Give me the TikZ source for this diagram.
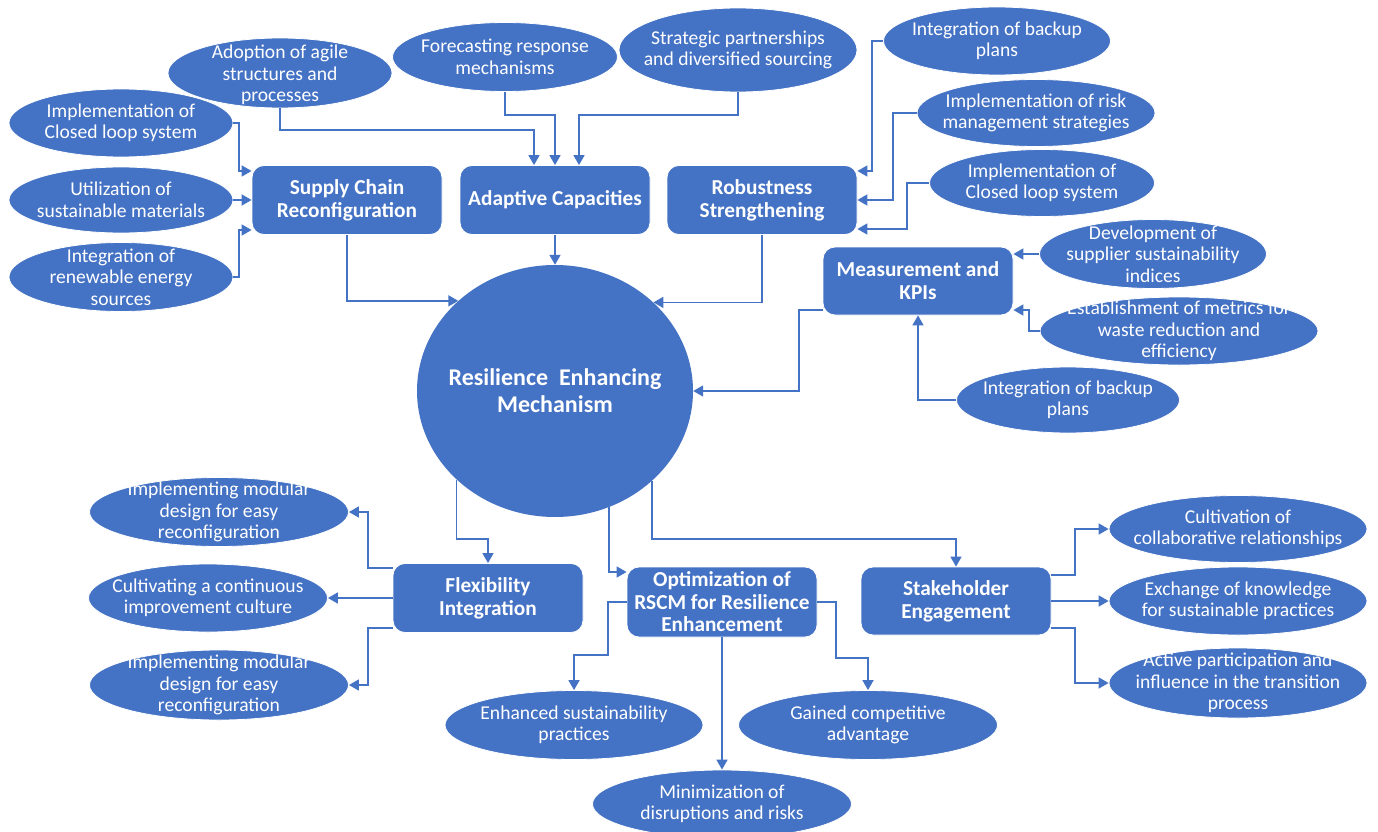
\documentclass[tikz,border=0pt]{standalone}
\usepackage{fontspec}
\setmainfont{Carlito}
\usetikzlibrary{shapes.geometric,arrows.meta}
\definecolor{ob}{HTML}{4472C4}
\begin{document}
\begin{tikzpicture}[x=1pt,y=-1pt,
  ell/.style={ellipse,fill=ob,draw=white,line width=0.8pt,inner sep=0pt},
  lbl/.style={text=white,inner sep=0pt,align=center,font=\fontsize{19.6}{21.5}\selectfont},
  bx/.style={rectangle,rounded corners=12pt,fill=ob,draw=white,line width=0.8pt,text=white,inner sep=0pt,
    align=center,minimum width=190pt,minimum height=69pt,font=\bfseries\fontsize{21.3}{23}\selectfont},
  hub/.style={ellipse,fill=ob,inner sep=0pt},
  hublbl/.style={text=white,inner sep=0pt,align=center,font=\bfseries\fontsize{24}{27}\selectfont},
  arr/.style={draw=ob,line width=1.6pt,-{Triangle[length=10pt,width=11pt]}}]
\useasboundingbox (0,0) rectangle (1378,832);
\fill[white] (0,0) rectangle (1378,832);

% central hub
\node[hub,minimum width=276pt,minimum height=252pt,
  label={[hublbl]center:{Resilience\ \ Enhancing\\Mechanism}}] (circ) at (555,391) {};

% boxes
\node[bx] (scr) at (347,200) {Supply Chain\\Reconfiguration};
\node[bx] (ac) at (555,200) {Adaptive Capacities};
\node[bx] (rs) at (762,200) {Robustness\\Strengthening};
\node[bx,minimum height=68pt] (mk) at (918,281) {Measurement and\\KPIs};
\node[bx] (flex) at (488,598) {Flexibility\\Integration};
\node[bx,minimum height=70pt,font=\bfseries\fontsize{21.3}{22.5}\selectfont] (opt) at (722,602) {Optimization of\\RSCM for Resilience\\Enhancement};
\node[bx,minimum height=68pt] (stake) at (956,601) {Stakeholder\\Engagement};

% ellipses top
\node[ell,minimum width=224pt,minimum height=70pt,label={[lbl,yshift=-2pt]center:{Adoption of agile\\structures and\\processes}}] (e1) at (280,73) {};
\node[ell,minimum width=225pt,minimum height=69pt,label={[lbl]center:{Forecasting response\\mechanisms}}] (e2) at (505,57) {};
\node[ell,minimum width=238pt,minimum height=84pt,label={[lbl]center:{Strategic partnerships\\and diversified sourcing}}] (e3) at (738,50) {};
% left
\node[ell,minimum width=224pt,minimum height=68pt,label={[lbl]center:{Implementation of\\Closed loop system}}] (l1) at (121,123) {};
\node[ell,minimum width=224pt,minimum height=66pt,label={[lbl]center:{Utilization of\\sustainable materials}}] (l2) at (121,200) {};
\node[ell,minimum width=224pt,minimum height=69pt,label={[lbl]center:{Integration of\\renewable energy\\sources}}] (l3) at (121,277) {};
% right top
\node[ell,minimum width=227pt,minimum height=68pt,label={[lbl]center:{Integration of backup\\plans}}] (r1) at (997,41) {};
\node[ell,minimum width=238pt,minimum height=67pt,label={[lbl]center:{Implementation of risk\\management strategies}}] (r2) at (1036,113) {};
\node[ell,minimum width=225pt,minimum height=67pt,label={[lbl]center:{Implementation of\\Closed loop system}}] (r3) at (1042,183) {};
% measurement
\node[ell,minimum width=227pt,minimum height=69pt,label={[lbl]center:{Development of\\supplier sustainability\\indices}}] (m1) at (1153,254) {};
\node[ell,minimum width=278pt,minimum height=68pt,label={[lbl]center:{Establishment of metrics for\\waste reduction and\\efficiency}}] (m2) at (1179,331) {};
\node[ell,minimum width=223pt,minimum height=66pt,label={[lbl]center:{Integration of backup\\plans}}] (m3) at (1068,400) {};
% flexibility
\node[ell,minimum width=259pt,minimum height=69pt,label={[lbl]center:{Implementing modular\\design for easy\\reconfiguration}}] (f1) at (219,512) {};
\node[ell,minimum width=239pt,minimum height=68pt,label={[lbl]center:{Cultivating a continuous\\improvement culture}}] (f2) at (208,598) {};
\node[ell,minimum width=259pt,minimum height=70pt,label={[lbl]center:{Implementing modular\\design for easy\\reconfiguration}}] (f3) at (219,685) {};
% optimization
\node[ell,minimum width=258pt,minimum height=69pt,label={[lbl]center:{Enhanced sustainability\\practices}}] (o1) at (574,725) {};
\node[ell,minimum width=259pt,minimum height=69pt,label={[lbl]center:{Gained competitive\\advantage}}] (o2) at (868,725) {};
\node[ell,minimum width=259pt,minimum height=68pt,label={[lbl]center:{Minimization of\\disruptions and risks}}] (o3) at (722,804) {};
% stakeholder
\node[ell,minimum width=258pt,minimum height=67pt,label={[lbl]center:{Cultivation of\\collaborative relationships}}] (s1) at (1238,529) {};
\node[ell,minimum width=258pt,minimum height=68pt,label={[lbl]center:{Exchange of knowledge\\for sustainable practices}}] (s2) at (1238,601) {};
\node[ell,minimum width=258pt,minimum height=70pt,label={[lbl]center:{Active participation and\\influence in the transition\\process}}] (s3) at (1238,683) {};

% bend coordinates
\coordinate (k1) at (239,171);
\coordinate (k3) at (239,230);
\coordinate (k4) at (534,130);
\coordinate (k5) at (555,115);
\coordinate (k6) at (579,115);
\coordinate (k7) at (872,171);
\coordinate (k8) at (893,200);
\coordinate (k9) at (907,229);
\coordinate (k11) at (1029,310);
\coordinate (k16) at (799,391);
\coordinate (k17) at (488,539);
\coordinate (k19) at (956,539);
\coordinate (k20) at (368,512);
\coordinate (k22) at (368,685);
\coordinate (k23) at (608,655);
\coordinate (k24) at (836,658);
\coordinate (k26) at (1075,529);
\coordinate (k28) at (1075,683);

% connectors into supply chain
\draw[arr] (l1.east) -| (k1) -- (k1 -| scr.west);
\draw[arr] (l2.east) -- (scr.west);
\draw[arr] (l3.east) -| (k3) -- (k3 -| scr.west);
% into adaptive
\draw[arr] (e1.south) |- (k4) -- (k4 |- ac.north);
\draw[arr] (e2.south) |- (k5) -- (k5 |- ac.north);
\draw[arr] (e3.south) |- (k6) -- (k6 |- ac.north);
% into robustness
\draw[arr] (r1.west) -| (k7) -- (k7 -| rs.east);
\draw[arr] (r2.west) -| (k8) -- (k8 -| rs.east);
\draw[arr] (r3.west) -| (k9) -- (k9 -| rs.east);
% into measurement
\draw[arr] (m1.west) -- (m1.west -| mk.east);
\draw[arr] (m2.west) -| (k11) -- (k11 -| mk.east);
\draw[arr] (m3.west) -| (mk.south);
% into hub
\draw[arr] (scr.south) |- (circ.137.8);
\draw[arr] (ac.south) -- (circ.north);
\draw[arr] (rs.south) |- (circ.42.2);
\draw[arr] ([yshift=-29pt]mk.west) -| (k16) -- (circ.east);
% out of hub
\draw[arr] (circ.222) |- (k17) -- (flex.north);
\draw[arr] (circ.295.4) |- ([yshift=30pt]opt.west);
\draw[arr] (circ.317.9) |- (k19) -- (stake.north);
% flexibility outputs
\draw[arr] ([yshift=30pt]flex.west) -| (k20) -- (f1.east);
\draw[arr] (flex.west) -- (f2.east);
\draw[arr] ([yshift=-30pt]flex.west) -| (k22) -- (f3.east);
% optimization outputs
\draw[arr] (opt.west) -| (k23) -| (o1.north);
\draw[arr] (opt.east) -| (k24) -| (o2.north);
\draw[arr] (opt.south) -- (o3.north);
% stakeholder outputs
\draw[arr] ([yshift=26pt]stake.east) -| (k26) -- (s1.west);
\draw[arr] (stake.east) -- (s2.west);
\draw[arr] ([yshift=-27pt]stake.east) -| (k28) -- (s3.west);
\end{tikzpicture}
\end{document}
